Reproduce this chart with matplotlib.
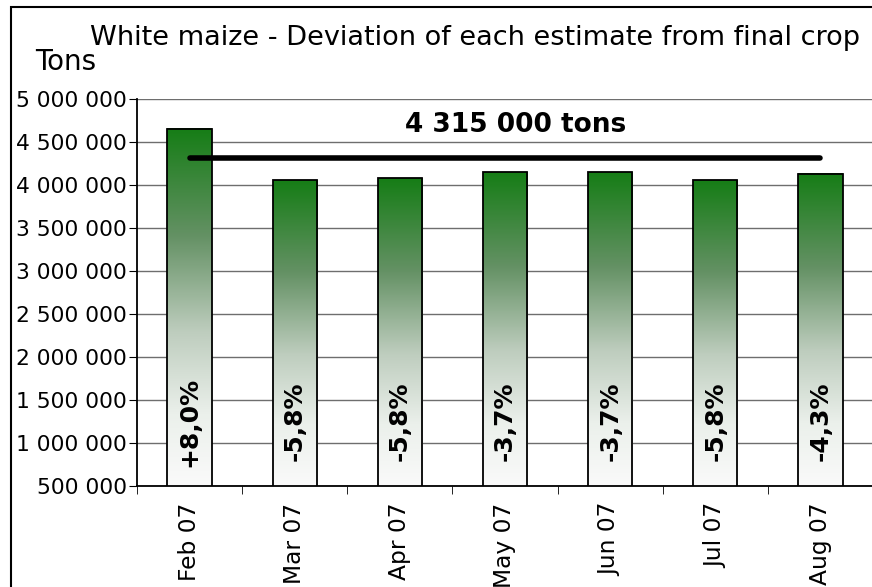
import numpy as np
import matplotlib.pyplot as plt
import matplotlib.patches as patches
from matplotlib.colors import LinearSegmentedColormap

months = ['Feb 07', 'Mar 07', 'Apr 07', 'May 07', 'Jun 07', 'Jul 07', 'Aug 07']
estimates = [4656000, 4058000, 4078000, 4151000, 4151000, 4058000, 4128000]
deviations = ['+8,0%', '-5,8%', '-5,8%', '-3,7%', '-3,7%', '-5,8%', '-4,3%']
final_crop = 4315000

plt.rcParams['font.family'] = 'DejaVu Sans'

fig = plt.figure(figsize=(8.72, 5.87), dpi=100)
ax = fig.add_axes([137/872, 1-486/587, 736/872, (486-99)/587])

# green-to-white fill for each bar
cmap = LinearSegmentedColormap.from_list('g', [
	(0.0, '#fafafa'), (0.2, '#ebf0eb'), (0.43, '#becdbe'),
	(0.7, '#649164'), (1.0, '#167d16')])
grad = np.linspace(0, 1, 256).reshape(-1, 1)
w = 0.42
x = np.arange(len(months))
ymin, ymax = 500000, 5000000
for i, v in enumerate(estimates):
	ax.imshow(grad, extent=[i-w/2, i+w/2, ymin, v], origin='lower', aspect='auto',
		cmap=cmap, zorder=2, interpolation='bilinear')
	ax.add_patch(patches.Rectangle((i-w/2, 0), w, v, fill=False,
		edgecolor='black', lw=1.3, zorder=3))
	ax.text(i, 1250000, deviations[i], rotation=90, ha='center', va='center',
		fontsize=18, fontweight='bold', zorder=4)

ax.plot([0, len(months)-1], [final_crop]*2, color='black', lw=4,
	solid_capstyle='round', zorder=5)
ax.text(2.05, 4613000, '4 315 000 tons', fontsize=19, fontweight='bold',
	ha='left', va='baseline')

ax.set_xlim(-0.5, len(months)-0.5)
ax.set_ylim(ymin, ymax)
yt = np.arange(ymin, ymax+1, 500000)
ax.set_yticks(yt)
ax.set_yticklabels(['{:,}'.format(t).replace(',', ' ') for t in yt], fontsize=15.7)
ax.yaxis.grid(True, color='#6e6e6e', lw=1)
ax.set_axisbelow(True)
ax.tick_params(axis='y', direction='out', length=6, color='black', pad=1)

ax.set_xticks(x)
ax.set_xticklabels(months, rotation=90, fontsize=16.8)
ax.set_xticks(np.arange(-0.5, len(months)), minor=True)
ax.tick_params(axis='x', which='major', length=0, pad=12)
ax.tick_params(axis='x', which='minor', direction='out', length=6, color='black')

for s in ['top', 'right']:
	ax.spines[s].set_visible(False)
ax.spines['left'].set_linewidth(1.3)
ax.spines['bottom'].set_linewidth(1.3)

fig.text(90/872, 1-45/587, 'White maize - Deviation of each estimate from final crop',
	fontsize=19.5, ha='left', va='baseline')
fig.text(35/872, 1-70/587, 'Tons', fontsize=20, ha='left', va='baseline')

fig.patches.append(patches.Rectangle((11/872, -0.1), 1.1, 1.1-7/587, fill=False,
	edgecolor='black', lw=1.5, transform=fig.transFigure, figure=fig))

fig.savefig('out.png', dpi=100)
